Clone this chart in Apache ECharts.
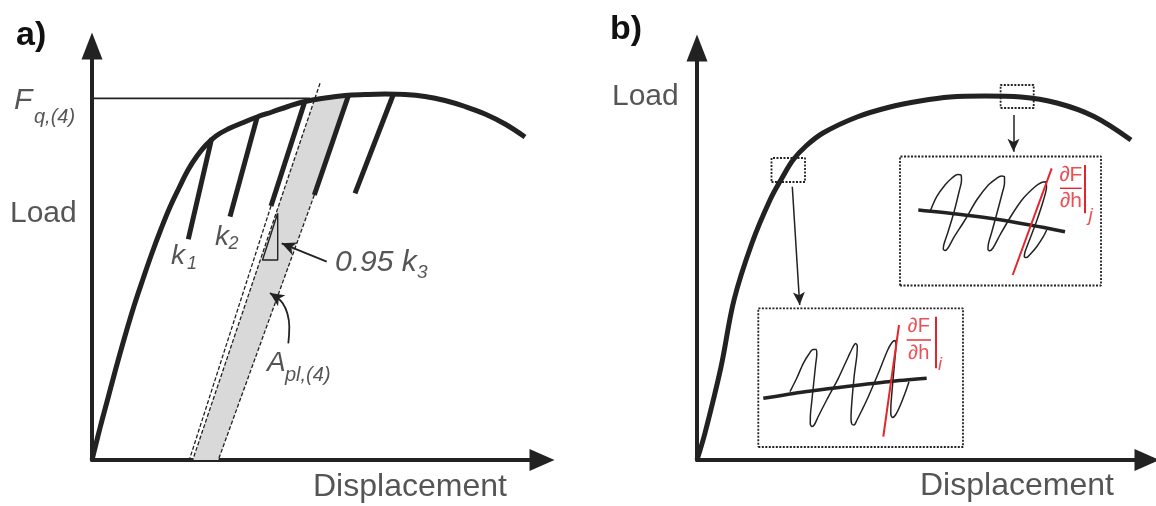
<!DOCTYPE html>
<html><head><meta charset="utf-8">
<script src="https://cdn.jsdelivr.net/npm/echarts@6/dist/echarts.min.js"></script>
<style>html,body{margin:0;padding:0;background:#fff}#c{width:1156px;height:506px}</style>
</head><body><div id="c"></div>
<script>
// ================= DATA (axis units) =================
// Panel a: load–displacement curve with unloading lines
const curveA = [[0,0],[8,32],[16,62],[24,92],[33,124],[42,154],[51,181],[60,207],[69,231],[78,253],[87,272],[96,290],[105,304],[114,315],[124,324],[136,331],[150,337],[165,343],[180,348],[196,353.5],[213,358.5],[233,362],[253,364.5],[273,365.5],[293,366],[313,365.5],[333,363.5],[353,359.5],[373,353.5],[393,346],[413,336],[433,323]];
const unloadK1 = [[119.7,321.7],[96.3,220.7]];
const unloadK2 = [[165.3,343.3],[138,243.3]];
const unloadK3 = [[213,359],[179,254]];
const unloadK4 = [[256.3,364],[222.3,265]];
const unloadK5 = [[301.3,365.5],[263,266.7]];
const k3Extension = [[179,254],[97.3,0]];
const k3Reduced = [[228,376.7],[100.7,0]];
const k4Extension = [[222.3,265],[126.3,0]];
const plasticArea = [[222.7,361.5],[238,363],[256.3,364.5],[222.3,265],[126.3,0],[100.7,0]];
const slopeTriangle = [[185.7,246.7],[185.7,200],[170.5,200],[185.7,246.7]];
const fqLine = [[-10,361.7],[218,361.7]];
const arrow095 = [[234.7,198.3],[189.7,216.7]];
const arcApl = [[196.3,116.7],[197.3,133.3],[195.3,146.7],[190.7,156.7],[184.7,162.7],[180,165.5]];
const arcAplHead = [[181.5,164.6],[178,166.9]];

// Panel b: load–displacement curve with two insets
const curveB = [[0,0],[8,27],[24,93],[37,160],[55,217],[73,260],[85,282],[96,300],[109,314],[126,327],[160,343],[193,353],[223,359],[253,363],[288,364],[324,363],[360,357],[397,343.5],[434,320]];
const boxSmallI = [[74.5,278],[108,278],[108,302],[74.5,302],[74.5,278]];
const boxSmallJ = [[303.6,352],[336.7,352],[336.7,375],[303.6,375],[303.6,352]];
const boxBigI = [[61.3,13],[266,13],[266,151.7],[61.3,151.7],[61.3,13]];
const boxBigJ = [[203,174.5],[404,174.5],[404,303.5],[203,303.5],[203,174.5]];
const arrowI = [[95.3,273.3],[102.7,155]];
const arrowJ = [[316.5,345],[316.5,308.3]];
const insetThickI = [[66.3,61.7],[108,68.3],[148,73.3],[191.3,78.3],[229.7,81.7]];
const insetLoopsI = [[93,68.3],[99.7,81.7],[106.3,96.7],[112,106],[116,110.5],[119,110.5],[119.8,106],[118.6,95],[116.5,75],[114.7,58],[113.3,42],[113.3,36],[115,33.5],[117.5,35.5],[121,43],[129.7,60],[141.3,81.7],[151.3,103.3],[156,113],[158.5,116.5],[160.3,114],[159.8,104],[157.3,85],[155,60],[154,42],[154.8,36],[157,35],[160,40],[165,50],[171.3,63.3],[181.3,86.7],[190.7,110],[195,117.5],[197.8,119.5],[199,115],[198,102],[196,80],[194,56],[193.8,46],[195.5,42.5],[198.5,45],[203,54],[208,66.7],[212,78.3]];
const tangentI = [[202,135],[186.3,23.3]];
const fracBarI = [[209.7,120],[234,120]];
const evalBarI = [[239,143.3],[239,91.7]];
const insetThickJ = [[221.3,250],[259.7,246],[293,241.7],[333,235],[368,228.3]];
const insetLoopsJ = [[233,248.3],[239.7,263.3],[248,275],[255,282],[260.5,285.5],[264,285],[264.5,280],[262,268],[257,248],[251,228],[247,216],[246.3,211],[248,209.5],[251,212],[256.3,221.7],[268,240],[279.7,260],[291.3,275],[299.7,281.7],[304.5,284],[307.5,283],[307.5,277],[305,266],[300,247],[294.5,227],[291.2,215],[291,210.5],[292.8,209.3],[296,212],[303,225],[314.7,245],[326.3,261.7],[338,273.3],[344.5,277.5],[348.8,278.3],[349.5,273],[346.5,260],[340,240],[332.5,220],[328,208],[327.3,203.5],[329.5,202.5],[333,205.5],[339.7,213.3],[346.3,223.3],[349.7,230]];
const tangentJ = [[354.7,291.7],[315.7,185]];
const fracBarJ = [[363,271.7],[384.7,271.7]];
const evalBarJ = [[388,295],[388,246.7]];

// Text labels
const textsA = ['F','q,(4)','Load','Displacement','k','1','k','2','0.95 k','3','A','pl,(4)'];
const anchorsA = [[-78,359],[-58,343],[-82,246.5],[221,-27.5],[79,204],[95,196],[123,222.5],[136.5,216],[243,197],[325,187],[175,96.7],[193,85]];
const textsB = ['Load','Displacement','∂F','∂h','i','∂F','∂h','j'];
const anchorsB = [[-85,363.5],[223,-26.5],[221.8,133.3],[221.8,107],[243,95],[373.8,285],[373.8,259.2],[393.5,244.2]];
const panelTitles = ['a)','b)'];

// ================= STYLE / LAYOUT =================
const DARK = '#222222', RED = '#e3262d', GRAY = '#d9d9d9';
const FONT = '"Liberation Sans", Arial, sans-serif';
const stylesA = [
  {size:30,italic:1},{size:20,italic:1},{size:30},{size:32},
  {size:28,italic:1},{size:18,italic:1},{size:28,italic:1},{size:18,italic:1},
  {size:30,italic:1},{size:19,italic:1},{size:28,italic:1},{size:20,italic:1}
];
const stylesB = [
  {size:30},{size:32},
  {size:20,color:RED,align:'center'},{size:20,color:RED,align:'center'},{size:18,italic:1,color:RED,align:'center'},
  {size:21,color:RED,align:'center'},{size:21,color:RED,align:'center'},{size:19,italic:1,color:RED,align:'center'}
];

function xAx(g){return {gridIndex:g,type:'value',min:0,max:450,
  axisLine:{show:true,lineStyle:{color:DARK,width:4},symbol:['none','triangle'],symbolSize:[22,25]},
  axisTick:{show:false},axisLabel:{show:false},splitLine:{show:false}};}
function yAx(g,max){return {gridIndex:g,type:'value',min:0,max:max,
  axisLine:{show:true,lineStyle:{color:DARK,width:4},symbol:['none','triangle'],symbolSize:[21,27]},
  axisTick:{show:false},axisLabel:{show:false},splitLine:{show:false}};}

function ln(g,data,ls,extra){return Object.assign({type:'line',xAxisIndex:g,yAxisIndex:g,data:data,
  symbol:'none',showSymbol:false,silent:true,clip:false,animation:false,
  emphasis:{disabled:true},lineStyle:Object.assign({color:DARK,width:2},ls)},extra||{});}

function arrowSeries(g,pairs,width,size){
  return {type:'line',xAxisIndex:g,yAxisIndex:g,data:[],silent:true,animation:false,
    markLine:{silent:true,animation:false,symbol:['none','arrow'],symbolSize:size,
      label:{show:false},emphasis:{disabled:true},
      lineStyle:{color:DARK,width:width,type:'solid'},
      data:pairs.map(p=>[{coord:p[0]},{coord:p[1]}])}};
}

function textSeries(g,texts,anchors,styles){
  return {type:'scatter',xAxisIndex:g,yAxisIndex:g,symbolSize:0,clip:false,silent:true,animation:false,
    emphasis:{disabled:true},z:10,
    data:texts.map((t,i)=>{const s=styles[i];return {value:anchors[i],label:{show:true,position:'inside',
      formatter:t,align:s.align||'left',verticalAlign:'middle',fontSize:s.size,
      fontStyle:s.italic?'italic':'normal',color:s.color||'#2a2a2a',fontFamily:FONT}};})};
}

const series = [
  {type:'custom',xAxisIndex:0,yAxisIndex:0,data:[[0,0]],silent:true,animation:false,z:1,clip:false,
   renderItem:(p,api)=>({type:'polygon',shape:{points:plasticArea.map(q=>api.coord(q))},style:{fill:GRAY}})},
  ln(0,k3Extension,{width:1.3,type:[4,2]}),
  ln(0,k3Reduced,{width:1.3,type:[4,2]}),
  ln(0,k4Extension,{width:1.3,type:[4,2]}),
  ln(0,fqLine,{width:1.8}),
  ln(0,curveA,{width:5},{smooth:0.4}),
  ln(0,unloadK1,{width:5}),ln(0,unloadK2,{width:5}),ln(0,unloadK3,{width:5}),
  ln(0,unloadK4,{width:5}),ln(0,unloadK5,{width:5}),
  ln(0,slopeTriangle,{width:1.4}),
  arrowSeries(0,[arrow095],1.8,[10,14]),
  ln(0,arcApl,{width:1.8},{smooth:0.5}),
  arrowSeries(0,[arcAplHead],1.8,[10,14]),
  textSeries(0,textsA,anchorsA,stylesA),

  ln(1,curveB,{width:5},{smooth:0.35}),
  ln(1,boxSmallI,{width:1.8,type:[2,1.5]}),
  ln(1,boxSmallJ,{width:1.8,type:[2,1.5]}),
  ln(1,boxBigI,{width:1.8,type:[2,1.5]}),
  ln(1,boxBigJ,{width:1.8,type:[2,1.5]}),
  arrowSeries(1,[arrowI,arrowJ],1.5,[9,13]),
  ln(1,insetThickI,{width:3.5},{smooth:0.3}),
  ln(1,insetLoopsI,{width:1.5},{smooth:0.3}),
  ln(1,tangentI,{width:2,color:RED}),
  ln(1,fracBarI,{width:1.4,color:RED}),
  ln(1,evalBarI,{width:2,color:RED}),
  ln(1,insetThickJ,{width:3.5},{smooth:0.3}),
  ln(1,insetLoopsJ,{width:1.5},{smooth:0.3}),
  ln(1,tangentJ,{width:2,color:RED}),
  ln(1,fracBarJ,{width:1.4,color:RED}),
  ln(1,evalBarJ,{width:2,color:RED}),
  textSeries(1,textsB,anchorsB,stylesB)
];

const chart = echarts.init(document.getElementById('c'));
chart.setOption({
  animation:false,
  backgroundColor:'#fff',
  title:[
    {text:panelTitles[0],left:11,top:14,textStyle:{fontSize:34,fontWeight:'bold',color:'#111',fontFamily:FONT}},
    {text:panelTitles[1],left:605,top:8,textStyle:{fontSize:34,fontWeight:'bold',color:'#111',fontFamily:FONT}}
  ],
  grid:[{left:92,right:614,top:46,bottom:46},{left:697,right:9,top:48,bottom:46}],
  xAxis:[xAx(0),xAx(1)],
  yAxis:[yAx(0,414),yAx(1,412)],
  series:series
});
</script></body></html>
